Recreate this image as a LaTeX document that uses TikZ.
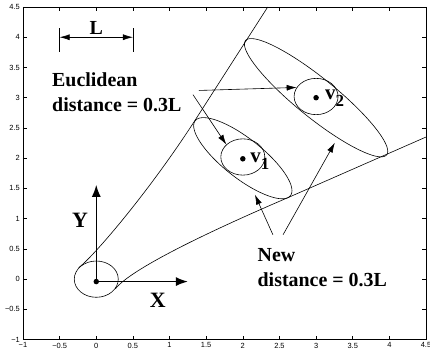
\documentclass[tikz,border=0pt]{standalone}
\usepackage{fontspec}
\setmainfont{Liberation Serif}
\newfontfamily\ticksans{Liberation Sans}
\usetikzlibrary{arrows.meta,shapes.geometric}

\begin{document}
\begin{tikzpicture}[
    x=73.3bp, y=60.5bp,
    every node/.style={inner sep=0pt},
    frame/.style={
        line width=0.8bp
    },
    tickmark/.style={
        line width=0.6bp
    },
    ticklabel/.style={
        font=\ticksans\fontsize{7.5}{8}\selectfont
    },
    curve/.style={
        line width=0.6bp
    },
    ring/.style={
        draw,
        ellipse,
        line width=0.6bp,
        minimum width=44bp,
        minimum height=36.3bp
    },
    dot/.style={
        circle,
        fill=black,
        minimum size=5.5bp
    },
    bigtext/.style={
        font=\fontsize{20}{25}\selectfont\bfseries,
        align=left
    },
    axislbl/.style={
        font=\fontsize{22}{22}\selectfont\bfseries
    },
    vlbl/.style={
        font=\fontsize{21}{21}\selectfont\bfseries
    },
    arr/.style={-{Latex[length=10bp,width=6bp]}, line width=0.6bp},
    axisarr/.style={-{Latex[length=12bp,width=9bp]}, line width=1.4bp}
]

    \useasboundingbox (-1.3138,-1.2975) rectangle (4.5546,4.6157);

    % plot frame and ticks
    \draw[frame] (-1,-1) rectangle (4.5,4.5);
    \foreach \t/\s [count=\i] in {-1/−1,-0.5/−0.5,0/0,0.5/0.5,1/1,1.5/1.5,
                                  2/2,2.5/2.5,3/3,3.5/3.5,4/4,4.5/4.5} {
        \draw[tickmark] (\t,-1) -- ++(0,4bp);
        \draw[tickmark] (\t,4.5) -- ++(0,-4bp);
        \draw[tickmark] (-1,\t) -- ++(4bp,0);
        \draw[tickmark] (4.5,\t) -- ++(-4bp,0);
        \node[ticklabel, anchor=north] (xt\i) at ([yshift=-3bp]\t,-1) {\s};
        \node[ticklabel, anchor=east] (yt\i) at ([xshift=-3bp]-1,\t) {\s};
    }

    % unit balls, Euclidean
    \node[ring] (ring0) at (0,0) {};
    \node[ring] (ring1) at (2,2.02) {};
    \node[ring] (ring2) at (3,3.02) {};

    % unit balls, new metric
    \draw[curve] plot[domain=0:360, samples=121, smooth, variable=\a]
        ({2+0.6364*cos(\a)+0.2121*sin(\a)}, {2-0.6364*cos(\a)+0.2121*sin(\a)});
    \draw[curve] plot[domain=0:360, samples=121, smooth, variable=\a]
        ({3+0.9546*cos(\a)+0.2121*sin(\a)}, {3-0.9546*cos(\a)+0.2121*sin(\a)});

    % boundary curves
    \draw[curve] (-0.24,0.19) .. controls (-0.05,0.36) and (0.7,1.41) .. (1.35,2.63)
        -- (2.34,4.5);
    \draw[curve] (0.26,-0.16) .. controls (0.45,0.13) and (1.3,0.664) .. (2.62,1.35)
        -- (4.5,2.35);

    % points
    \node[dot] (o) at (0,-0.04) {};
    \node[dot] (v1) at (2,1.99) {};
    \node[dot] (v2) at (3,3.0) {};
    \node[vlbl, anchor=base west] (v1lbl) at (2.10,1.93)
        {v\raisebox{-7bp}{\fontsize{17}{17}\selectfont 1}};
    \node[vlbl, anchor=base west] (v2lbl) at (3.12,2.97)
        {v\raisebox{-7bp}{\fontsize{17}{17}\selectfont 2}};

    % coordinate axes
    \coordinate (xend) at (1.25,-0.04);
    \coordinate (yend) at (0,1.56);
    \draw[axisarr] (o.center) -- (xend);
    \draw[axisarr] (o.center) -- (yend);
    \node[axislbl, anchor=base] (xlbl) at (0.84,-0.47) {X};
    \node[axislbl, anchor=base] (ylbl) at (-0.22,0.85) {Y};

    % length scale
    \node[bigtext, anchor=base] (ltxt) at (0,4.05) {L};
    \coordinate (la) at (-0.5,4);
    \coordinate (lb) at (0.5,4);
    \draw[tickmark] (-0.5,3.76) -- (-0.5,4.16);
    \draw[tickmark] (0.5,3.76) -- (0.5,4.16);
    \draw[{Latex[length=10bp,width=6bp]}-{Latex[length=10bp,width=6bp]}, line width=0.6bp] (la) -- (lb);

    % labels and arrows
    \node[bigtext, anchor=base west] (eu) at (-0.604,2.77) {Euclidean\\distance = 0.3L};
    \node[bigtext, anchor=base west] (nw) at (2.20,-0.124) {New\\distance = 0.3L};

    \coordinate (eua) at (1.40,3.12);
    \coordinate (eub) at (1.32,3.05);
    \coordinate (nwa) at (2.41,0.736);
    \coordinate (nwb) at (2.55,0.736);
    \coordinate (e1tip) at (2.165,1.397);
    \coordinate (e2tip) at (3.256,2.256);

    \draw[arr] (eua) -- (ring2.155);
    \draw[arr] (eub) -- (ring1.143);
    \draw[arr] (nwa) -- (e1tip);
    \draw[arr] (nwb) -- (e2tip);

\end{tikzpicture}
\end{document}
